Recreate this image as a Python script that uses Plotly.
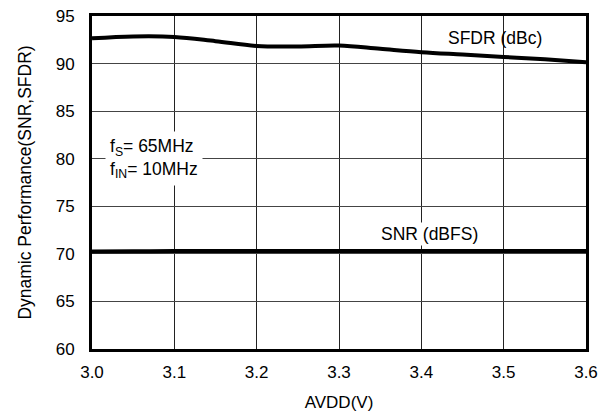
import plotly.graph_objects as go

avdd = [3.0, 3.05, 3.1, 3.15, 3.2, 3.25, 3.3, 3.35, 3.4, 3.45, 3.5, 3.55, 3.6]
sfdr = [92.65, 92.85, 92.8, 92.35, 91.85, 91.8, 91.9, 91.55, 91.2, 90.95, 90.7, 90.45, 90.15]
snr = [70.25, 70.27, 70.3, 70.3, 70.3, 70.3, 70.3, 70.3, 70.3, 70.3, 70.3, 70.3, 70.3]

xticks = [3.0, 3.1, 3.2, 3.3, 3.4, 3.5, 3.6]
xticklabels = ["3.0", "3.1", "3.2", "3.3", "3.4", "3.5", "3.6"]
yticks = [60, 65, 70, 75, 80, 85, 90, 95]

font = "Liberation Sans, Arial, Helvetica, sans-serif"

fig = go.Figure()
fig.add_trace(go.Scatter(x=avdd, y=sfdr, mode="lines",
                         line=dict(color="black", width=4, shape="spline"),
                         showlegend=False))
fig.add_trace(go.Scatter(x=avdd, y=snr, mode="lines",
                         line=dict(color="black", width=4, shape="spline"),
                         showlegend=False))

fig.add_annotation(x=3.49, y=92.7, text="SFDR (dBc)", showarrow=False,
                   font=dict(size=17.5, color="black", family=font))
fig.add_annotation(x=3.41, y=72.1, text="SNR (dBFS)", showarrow=False,
                   font=dict(size=17.5, color="black", family=font),
                   bgcolor="white")
fig.add_annotation(x=3.016, y=80.0, xanchor="left",
                   text="f<sub>S</sub>= 65MHz<br>f<sub>IN</sub>= 10MHz",
                   showarrow=False, align="left",
                   font=dict(size=17.5, color="black", family=font),
                   bgcolor="white", borderpad=4)

fig.update_layout(
    width=607, height=412,
    margin=dict(l=92, r=21, t=16, b=63),
    paper_bgcolor="white", plot_bgcolor="white",
    font=dict(family=font, size=17, color="black"),
    xaxis=dict(range=[3.0, 3.6], tickvals=xticks, ticktext=xticklabels,
               showgrid=True, gridcolor="#222", gridwidth=1,
               showline=True, linecolor="black", linewidth=3, mirror=True,
               zeroline=False, ticks="", ticklen=0, ticklabelstandoff=6,
               tickfont=dict(size=17), automargin=False,
               title=dict(text="AVDD(V)", font=dict(size=17), standoff=15)),
    yaxis=dict(range=[60, 95], tickvals=yticks,
               showgrid=True, gridcolor="#444", gridwidth=1,
               showline=True, linecolor="black", linewidth=3, mirror=True,
               zeroline=False, ticks="", ticklen=0, ticklabelstandoff=11,
               tickfont=dict(size=17), automargin=False,
               title=dict(text="Dynamic Performance(SNR,SFDR)", font=dict(size=17.5), standoff=20)),
)

fig.write_html("out.html")
